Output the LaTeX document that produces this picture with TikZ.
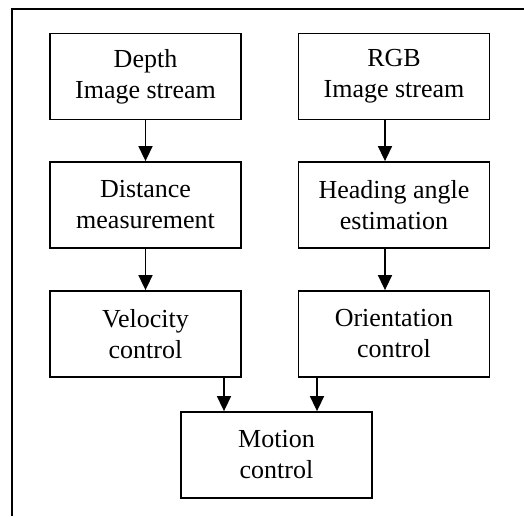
\documentclass[tikz,border=0pt]{standalone}
\usepackage{fontspec}
\setmainfont{Liberation Serif}
\usetikzlibrary{arrows.meta}

\begin{document}
\begin{tikzpicture}[x=1pt, y=-1pt,
    block/.style={draw, line width=1.8pt, minimum width=191pt, minimum height=86pt,
      inner sep=0pt, align=center, font=\fontsize{26}{31}\selectfont},
    arr/.style={line width=1.6pt, -{Triangle[length=15pt, width=14pt]}}]
    \useasboundingbox (0,0) rectangle (524,516);
    % frame (only top and left edge visible)
    \draw[line width=1.8pt] (12,516) -- (12,9) -- (524,9);
    % left column
    \node[block] (depth) at (145.5,76.5) {Depth\\Image stream};
    \node[block] (dist) at (145.5,205) {Distance\\measurement};
    \node[block] (vel) at (145.5,334) {Velocity\\control};
    % right column
    \node[block] (rgb) at (394,76.5) {RGB\\Image stream};
    \node[block] (head) at (394,205) {Heading angle\\estimation};
    \node[block] (orient) at (394,334) {Orientation\\control};
    \node[block] (motion) at (276.5,455) {Motion\\control};
    % connectors
    \draw[arr] (depth) -- (dist);
    \draw[arr] (dist) -- (vel);
    \draw[arr] ([xshift=-9pt]rgb.south) -- ([xshift=-9pt]head.north);
    \draw[arr] ([xshift=-9pt]head.south) -- ([xshift=-9pt]orient.north);
    \draw[arr] ([xshift=78.5pt]vel.south) coordinate (v) -- (v |- motion.north);
    \draw[arr] ([xshift=-77pt]orient.south) coordinate (o) -- (o |- motion.north);
\end{tikzpicture}
\end{document}
